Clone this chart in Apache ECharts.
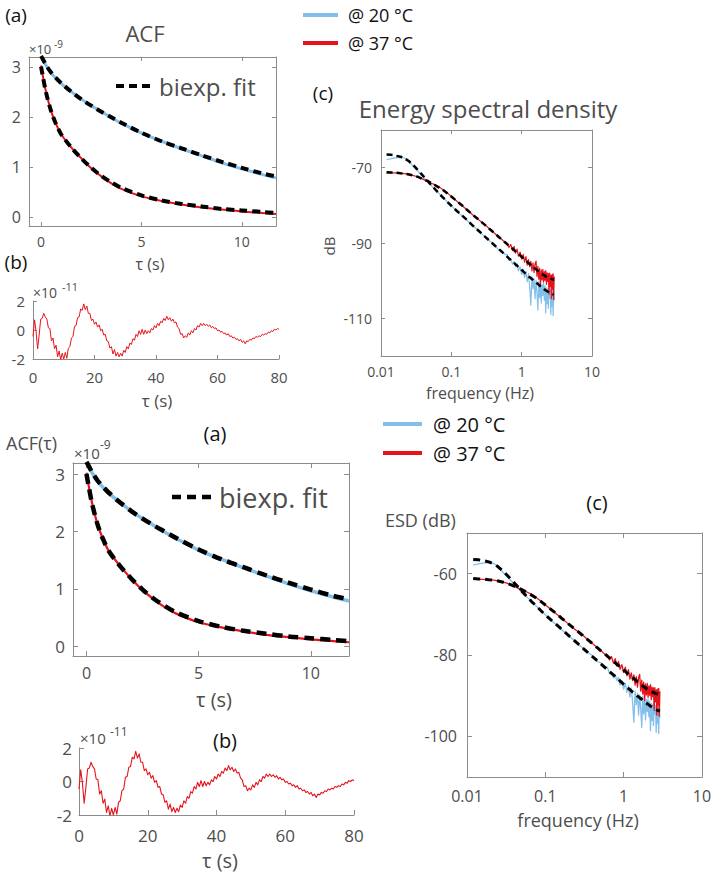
<!DOCTYPE html>
<html><head><meta charset="utf-8">
<script src="https://cdn.jsdelivr.net/npm/echarts@6/dist/echarts.min.js"></script>
<style>html,body{margin:0;padding:0;background:#fff;}#c{width:718px;height:876px;}</style>
</head><body><div id="c"></div>
<script>
// ---------- DATA ----------
// ACF (x 1e-9) vs tau (s)
const TAU = [0,0.1,0.25,0.5,0.75,1,1.5,2,2.5,3,3.5,4,5,6,7,8,9,10,11,11.7];
const ACF20     = [3.21,3.14,3.03,2.88,2.77,2.67,2.51,2.36,2.23,2.11,1.99,1.88,1.68,1.52,1.37,1.23,1.09,0.97,0.86,0.79];
const ACF20_FIT = [3.22,3.15,3.04,2.89,2.78,2.68,2.51,2.36,2.23,2.11,2.00,1.89,1.69,1.52,1.38,1.24,1.11,0.99,0.88,0.82];
const ACF37     = [3.03,2.80,2.50,2.12,1.86,1.66,1.40,1.18,0.98,0.82,0.68,0.57,0.42,0.33,0.26,0.20,0.16,0.12,0.09,0.07];
const ACF37_FIT = [3.01,2.79,2.49,2.12,1.86,1.66,1.40,1.18,0.99,0.83,0.70,0.59,0.44,0.34,0.27,0.22,0.17,0.14,0.11,0.09];
const ACF_YTICKS = [0,1,2,3];
const ACF_XTICKS = [0,5,10];

// fit residual (x 1e-11) vs tau (s)
const RES_T = [0,0.5,1,1.5,2,2.5,3,3.5,4,4.5,5,5.5,6,6.5,7,7.5,8,8.5,9,9.5,10,10.5,11,11.5,12,12.5,13,13.5,14,14.5,15,15.5,16,16.5,17,17.5,18,18.5,19,19.5,20,20.5,21,21.5,22,22.5,23,23.5,24,24.5,25,25.5,26,26.5,27,27.5,28,28.5,29,29.5,30,30.5,31,31.5,32,32.5,33,33.5,34,34.5,35,35.5,36,36.5,37,37.5,38,38.5,39,39.5,40,40.5,41,41.5,42,42.5,43,43.5,44,44.5,45,45.5,46,46.5,47,47.5,48,48.5,49,49.5,50,50.5,51,51.5,52,52.5,53,53.5,54,54.5,55,55.5,56,56.5,57,57.5,58,58.5,59,59.5,60,60.5,61,61.5,62,62.5,63,63.5,64,64.5,65,65.5,66,66.5,67,67.5,68,68.5,69,69.5,70,70.5,71,71.5,72,72.5,73,73.5,74,74.5,75,75.5,76,76.5,77,77.5,78,78.5,79,79.5,80];
const RES = [-0.45,0.70,-0.10,-1.30,-0.35,0.75,0.80,1.15,0.90,0.75,0.15,0.10,-0.75,-0.55,-1.30,-1.05,-1.85,-1.45,-2.05,-1.60,-2.00,-1.55,-1.95,-1.25,-1.15,-0.55,-0.45,0.25,0.30,0.85,0.90,1.45,1.35,1.80,1.40,1.65,1.15,1.15,0.65,0.75,0.40,0.55,0.20,0.35,-0.05,0.05,-0.35,-0.30,-0.75,-0.80,-1.25,-1.15,-1.65,-1.35,-1.80,-1.55,-1.85,-1.60,-1.80,-1.40,-1.55,-1.15,-1.30,-0.90,-1.00,-0.60,-0.70,-0.30,-0.45,-0.05,-0.30,0.05,-0.30,0.00,-0.25,-0.05,-0.20,0.10,0.00,0.30,0.15,0.45,0.30,0.60,0.50,0.80,0.65,0.95,0.70,0.85,0.60,0.75,0.50,0.55,0.20,0.10,-0.30,-0.25,-0.55,-0.40,-0.50,-0.20,-0.35,-0.05,-0.20,0.10,0.00,0.30,0.20,0.45,0.30,0.45,0.30,0.40,0.25,0.35,0.15,0.25,0.10,0.15,-0.05,0.00,-0.15,-0.10,-0.25,-0.20,-0.35,-0.25,-0.45,-0.40,-0.55,-0.50,-0.65,-0.60,-0.75,-0.65,-0.85,-0.75,-0.95,-0.75,-0.80,-0.65,-0.70,-0.55,-0.60,-0.45,-0.50,-0.40,-0.45,-0.30,-0.35,-0.25,-0.30,-0.15,-0.20,-0.05,-0.10,0.05,0.00,0.10,0.05];
const RES_YTICKS = [-2,0,2];
const RES_XTICKS = [0,20,40,60,80];

// Energy spectral density (dB) vs frequency (Hz)
const FREQ = [0.012,0.014,0.016,0.019,0.022,0.025,0.029,0.033,0.038,0.044,0.05,0.058,0.067,0.077,0.09,0.105,0.12,0.14,0.165,0.19,0.22,0.26,0.3,0.35,0.4,0.46,0.52,0.58,
0.62,0.66,0.70,0.74,0.78,0.82,0.86,0.90,0.95,1.00,1.05,1.10,1.15,1.20,1.25,1.30,1.35,1.40,1.45,1.50,1.55,1.60,1.65,1.70,1.75,1.80,1.85,1.90,1.95,2.00,2.05,2.10,2.15,2.20,2.25,2.30,2.35,2.40,2.45,2.50,2.55,2.60,2.65,2.70,2.75,2.80,2.85,2.90];
// upper panel (c)
const ESD20_A = [-67.9,-67.6,-67.4,-67.3,-67.5,-68.3,-69.7,-70.8,-72.1,-73.4,-74.5,-75.7,-76.9,-78.0,-79.3,-80.5,-81.6,-82.7,-83.9,-85.0,-86.0,-87.3,-88.3,-89.4,-90.2,-91.6,-92.0,-93.1,
-93.0,-94.6,-94.2,-95.6,-94.9,-96.3,-95.5,-97.4,-96.3,-98.4,-96.9,-99.2,-97.6,-100.3,-98.1,-101.6,-106.5,-98.9,-102.2,-99.4,-104.8,-99.9,-103.1,-107.8,-100.2,-104.5,-100.6,-106.0,-101.0,-103.9,-100.8,-105.2,-101.4,-108.6,-101.9,-106.1,-102.2,-107.3,-101.8,-104.6,-102.5,-109.0,-102.3,-106.8,-102.9,-109.3,-102.6,-105.5];
const ESD20_FIT_A = [-66.5,-66.6,-66.8,-67.1,-67.6,-68.3,-69.4,-70.5,-71.8,-73.1,-74.3,-75.6,-76.9,-78.0,-79.3,-80.5,-81.5,-82.6,-83.8,-84.9,-86.0,-87.2,-88.3,-89.4,-90.4,-91.4,-92.3,-93.1,
-93.6,-94.1,-94.5,-94.9,-95.3,-95.7,-96.0,-96.4,-96.8,-97.2,-97.5,-97.9,-98.2,-98.5,-98.8,-99.1,-99.3,-99.6,-99.8,-100.1,-100.3,-100.5,-100.7,-100.9,-101.1,-101.3,-101.5,-101.7,-101.8,-102.0,-102.1,-102.3,-102.4,-102.6,-102.7,-102.8,-102.9,-103.0,-103.1,-103.2,-103.3,-103.4,-103.5,-103.6,-103.6,-103.7,-103.7,-103.8];
const ESD37_A = [-71.4,-71.4,-71.4,-71.5,-71.6,-71.8,-72.1,-72.4,-72.9,-73.5,-74.0,-74.5,-75.1,-75.9,-76.9,-78.0,-78.9,-80.0,-81.1,-82.1,-83.2,-84.2,-85.1,-86.3,-87.2,-88.2,-89.0,-89.9,
-90.0,-91.2,-90.4,-92.0,-90.9,-92.7,-91.6,-93.5,-92.4,-94.3,-93.0,-95.1,-93.6,-95.9,-94.4,-96.3,-94.9,-97.4,-95.3,-97.9,-95.6,-94.8,-98.9,-96.2,-99.6,-96.7,-101.2,-97.1,-99.8,-97.0,-100.4,-97.6,-99.9,-97.3,-101.0,-97.9,-100.2,-98.1,-103.6,-98.0,-101.5,-98.6,-104.8,-98.4,-102.3,-98.2,-105.0,-98.9];
const ESD37_FIT_A = [-71.2,-71.3,-71.3,-71.5,-71.6,-71.8,-72.1,-72.4,-72.9,-73.4,-73.9,-74.6,-75.3,-76.0,-77.0,-78.0,-78.9,-79.9,-81.1,-82.1,-83.1,-84.2,-85.2,-86.3,-87.2,-88.2,-89.1,-89.8,
-90.3,-90.7,-91.1,-91.5,-91.9,-92.3,-92.6,-92.9,-93.3,-93.7,-94.0,-94.4,-94.7,-95.0,-95.3,-95.6,-95.8,-96.1,-96.3,-96.6,-96.8,-97.0,-97.2,-97.4,-97.6,-97.8,-97.9,-98.1,-98.2,-98.4,-98.5,-98.6,-98.7,-98.9,-99.0,-99.1,-99.1,-99.2,-99.3,-99.4,-99.4,-99.5,-99.5,-99.6,-99.6,-99.7,-99.7,-99.7];
// lower panel (c)
const ESD20_B = [-57.9,-57.6,-57.4,-57.3,-57.5,-58.3,-59.7,-60.8,-62.1,-63.4,-64.5,-65.7,-66.9,-68.0,-69.3,-70.5,-71.6,-72.7,-73.9,-75.0,-76.0,-77.3,-78.3,-79.4,-80.2,-81.6,-82.0,-83.1,
-83.0,-84.6,-84.2,-85.6,-84.9,-86.3,-85.5,-87.4,-86.3,-88.4,-86.9,-89.2,-87.6,-90.3,-88.1,-91.6,-96.5,-88.9,-92.2,-89.4,-94.8,-89.9,-93.1,-97.8,-90.2,-94.5,-90.6,-96.0,-91.0,-93.9,-90.8,-95.2,-91.4,-98.6,-91.9,-96.1,-92.2,-97.3,-91.8,-94.6,-92.5,-99.0,-92.3,-96.8,-92.9,-99.3,-92.6,-95.5];
const ESD20_FIT_B = [-56.5,-56.6,-56.8,-57.1,-57.6,-58.3,-59.4,-60.5,-61.8,-63.1,-64.3,-65.6,-66.9,-68.0,-69.3,-70.5,-71.5,-72.6,-73.8,-74.9,-76.0,-77.2,-78.3,-79.4,-80.4,-81.4,-82.3,-83.1,
-83.6,-84.1,-84.5,-84.9,-85.3,-85.7,-86.0,-86.4,-86.8,-87.2,-87.5,-87.9,-88.2,-88.5,-88.8,-89.1,-89.3,-89.6,-89.8,-90.1,-90.3,-90.5,-90.7,-90.9,-91.1,-91.3,-91.5,-91.7,-91.8,-92.0,-92.1,-92.3,-92.4,-92.6,-92.7,-92.8,-92.9,-93.0,-93.1,-93.2,-93.3,-93.4,-93.5,-93.6,-93.6,-93.7,-93.7,-93.8];
const ESD37_B = [-61.4,-61.4,-61.4,-61.5,-61.6,-61.8,-62.1,-62.4,-62.9,-63.5,-64.0,-64.5,-65.1,-65.9,-66.9,-68.0,-68.9,-70.0,-71.1,-72.1,-73.2,-74.2,-75.1,-76.3,-77.2,-78.2,-79.0,-79.9,
-80.0,-81.2,-80.4,-82.0,-80.9,-82.7,-81.6,-83.5,-82.4,-84.3,-83.0,-85.1,-83.6,-85.9,-84.4,-86.3,-84.9,-87.4,-85.3,-87.9,-85.6,-84.8,-88.9,-86.2,-89.6,-86.7,-91.2,-87.1,-89.8,-87.0,-90.4,-87.6,-89.9,-87.3,-91.0,-87.9,-90.2,-88.1,-93.6,-88.0,-91.5,-88.6,-94.8,-88.4,-92.3,-88.2,-95.0,-88.9];
const ESD37_FIT_B = [-61.2,-61.3,-61.3,-61.5,-61.6,-61.8,-62.1,-62.4,-62.9,-63.4,-63.9,-64.6,-65.3,-66.0,-67.0,-68.0,-68.9,-69.9,-71.1,-72.1,-73.1,-74.2,-75.2,-76.3,-77.2,-78.2,-79.1,-79.8,
-80.3,-80.7,-81.1,-81.5,-81.9,-82.3,-82.6,-82.9,-83.3,-83.7,-84.0,-84.4,-84.7,-85.0,-85.3,-85.6,-85.8,-86.1,-86.3,-86.6,-86.8,-87.0,-87.2,-87.4,-87.6,-87.8,-87.9,-88.1,-88.2,-88.4,-88.5,-88.6,-88.7,-88.9,-89.0,-89.1,-89.1,-89.2,-89.3,-89.4,-89.4,-89.5,-89.5,-89.6,-89.6,-89.7,-89.7,-89.7];
const ESD_YTICKS_A = [-110,-90,-70];
const ESD_YTICKS_B = [-100,-80,-60];

const NAME20 = '@ 20 °C', NAME37 = '@ 37 °C', NAMEFIT = 'biexp. fit';

// ---------- STYLE ----------
const FONT = 'Open Sans';
const AX = '#8c8c8c', LBL = '#4d4d4d', BLUE = '#82bfea', RED = '#e5141c';

const zip = (xs, ys) => xs.map((x, i) => [x, ys[i]]);

function axis(g, o) {
  const a = {
    gridIndex: g, type: o.type || 'value', min: o.min, max: o.max, position: o.pos,
    axisLine: {show: true, onZero: false, lineStyle: {color: AX, width: 1}},
    axisTick: {show: true, inside: true, length: o.tl || 4, lineStyle: {color: AX, width: 1}},
    axisLabel: {show: !!o.labels, margin: o.margin || 8, fontSize: o.fs || 14, color: LBL, fontFamily: FONT},
    splitLine: {show: false}, minorTick: {show: false}, minorSplitLine: {show: false}
  };
  if (o.ticks) { a.axisTick.customValues = o.ticks; a.axisLabel.customValues = o.ticks; }
  if (o.type === 'log') a.logBase = 10;
  return a;
}

const grids = [
  {left: 29, top: 57, width: 247, height: 169},
  {left: 33, top: 301, width: 246, height: 58},
  {left: 381, top: 130, width: 211, height: 226},
  {left: 73, top: 463, width: 276, height: 193},
  {left: 79, top: 748, width: 275, height: 67},
  {left: 467, top: 533, width: 235, height: 244}
].map(g => Object.assign({containLabel: false, outerBoundsMode: 'none'}, g));

const XMIN = -0.6, XMAX = 11.7, YMIN = -0.17, YMAX = 3.2;
const xAxes = [
  axis(0, {min: XMIN, max: XMAX, pos: 'bottom', ticks: ACF_XTICKS, labels: true, margin: 8, fs: 14}),
  axis(0, {min: XMIN, max: XMAX, pos: 'top', ticks: ACF_XTICKS}),
  axis(1, {min: 0, max: 80, pos: 'bottom', ticks: RES_XTICKS, labels: true, margin: 10, fs: 15}),
  axis(2, {type: 'log', min: 0.01, max: 10, pos: 'bottom', labels: true, margin: 8, fs: 14}),
  axis(2, {type: 'log', min: 0.01, max: 10, pos: 'top'}),
  axis(3, {min: XMIN, max: XMAX, pos: 'bottom', ticks: ACF_XTICKS, labels: true, margin: 9, fs: 16, tl: 5}),
  axis(3, {min: XMIN, max: XMAX, pos: 'top', ticks: ACF_XTICKS, tl: 5}),
  axis(4, {min: 0, max: 80, pos: 'bottom', ticks: RES_XTICKS, labels: true, margin: 12, fs: 17, tl: 5}),
  axis(5, {type: 'log', min: 0.01, max: 10, pos: 'bottom', labels: true, margin: 11, fs: 16, tl: 5}),
  axis(5, {type: 'log', min: 0.01, max: 10, pos: 'top', tl: 5})
];
const yAxes = [
  axis(0, {min: YMIN, max: YMAX, pos: 'left', ticks: ACF_YTICKS, labels: true, margin: 8, fs: 16}),
  axis(0, {min: YMIN, max: YMAX, pos: 'right', ticks: ACF_YTICKS}),
  axis(1, {min: -2, max: 2, pos: 'left', ticks: RES_YTICKS, labels: true, margin: 8, fs: 15}),
  axis(2, {min: -120, max: -60, pos: 'left', ticks: ESD_YTICKS_A, labels: true, margin: 9, fs: 14}),
  axis(2, {min: -120, max: -60, pos: 'right', ticks: ESD_YTICKS_A}),
  axis(3, {min: YMIN, max: YMAX, pos: 'left', ticks: ACF_YTICKS, labels: true, margin: 8, fs: 17, tl: 5}),
  axis(3, {min: YMIN, max: YMAX, pos: 'right', ticks: ACF_YTICKS, tl: 5}),
  axis(4, {min: -2, max: 2, pos: 'left', ticks: RES_YTICKS, labels: true, margin: 7, fs: 17, tl: 5}),
  axis(5, {min: -110, max: -50, pos: 'left', ticks: ESD_YTICKS_B, labels: true, margin: 10, fs: 16, tl: 5}),
  axis(5, {min: -110, max: -50, pos: 'right', ticks: ESD_YTICKS_B, tl: 5})
];

function line(name, xi, data, color, width, dash, smooth) {
  return {
    name, type: 'line', xAxisIndex: xi, yAxisIndex: xi, data, symbol: 'none', showSymbol: false,
    smooth: smooth || false, animation: false, silent: true,
    lineStyle: {color, width, type: dash || 'solid', cap: 'butt', join: 'round'}
  };
}

const series = [
  // upper (a)
  line(NAME20, 0, zip(TAU, ACF20), BLUE, 3, null, 0.3),
  line(NAME37, 0, zip(TAU, ACF37), RED, 2, null, 0.3),
  line(NAMEFIT, 0, zip(TAU, ACF20_FIT), '#000', 4, [8, 5], 0.3),
  line(NAMEFIT, 0, zip(TAU, ACF37_FIT), '#000', 4, [8, 5], 0.3),
  // upper (b)
  line(NAME37, 2, zip(RES_T, RES), RED, 1),
  // upper (c)
  line(NAME20, 3, zip(FREQ, ESD20_A), BLUE, 1.2),
  line(NAME37, 3, zip(FREQ, ESD37_A), RED, 1.2),
  line(NAMEFIT, 3, zip(FREQ, ESD20_FIT_A), '#000', 2.5, [6, 4]),
  line(NAMEFIT, 3, zip(FREQ, ESD37_FIT_A), '#000', 2.5, [6, 4]),
  // lower (a)
  line(NAME20, 5, zip(TAU, ACF20), BLUE, 3.5, null, 0.3),
  line(NAME37, 5, zip(TAU, ACF37), RED, 2.2, null, 0.3),
  line(NAMEFIT, 5, zip(TAU, ACF20_FIT), '#000', 4.5, [10, 6], 0.3),
  line(NAMEFIT, 5, zip(TAU, ACF37_FIT), '#000', 4.5, [10, 6], 0.3),
  // lower (b)
  line(NAME37, 7, zip(RES_T, RES), RED, 1.1),
  // lower (c)
  line(NAME20, 8, zip(FREQ, ESD20_B), BLUE, 1.3),
  line(NAME37, 8, zip(FREQ, ESD37_B), RED, 1.3),
  line(NAMEFIT, 8, zip(FREQ, ESD20_FIT_B), '#000', 3, [7, 5]),
  line(NAMEFIT, 8, zip(FREQ, ESD37_FIT_B), '#000', 3, [7, 5])
];

function T(x, y, text, size, color, align, extra) {
  return Object.assign({
    type: 'text', x, y, silent: true,
    style: {text, fill: color || LBL, fontSize: size, fontFamily: FONT,
      align: align || 'center', textAlign: align || 'center',
      verticalAlign: 'middle', textVerticalAlign: 'middle'}
  }, extra || {});
}
function L(x1, y1, x2, y2, color, w, dash) {
  return {type: 'line', silent: true, shape: {x1, y1, x2, y2},
    style: {stroke: color, lineWidth: w, lineDash: dash || null, lineCap: 'butt'}};
}

const graphic = [
  // upper figure
  T(16, 15, '(a)', 19, '#111'),
  T(145, 33, 'ACF', 22),
  T(29, 49, '×10', 13, LBL, 'left'), T(54, 44, '-9', 10, LBL, 'left'),
  L(116, 86, 153, 86, '#000', 4, [8, 5]),
  T(159, 86, NAMEFIT, 24, LBL, 'left'),
  T(150, 264, 'τ (s)', 16),
  T(16, 262, '(b)', 19, '#111'),
  T(33, 292, '×10', 14, LBL, 'left'), T(62, 286, '-11', 11, LBL, 'left'),
  T(157, 400, 'τ (s)', 17),
  L(303, 15, 338, 15, BLUE, 4), T(348, 15, NAME20, 18, '#111', 'left'),
  L(303, 43, 338, 43, RED, 4), T(348, 43, NAME37, 18, '#111', 'left'),
  T(323, 93, '(c)', 19, '#111'),
  T(488, 108, 'Energy spectral density', 24),
  T(329, 246, 'dB', 15, LBL, 'center', {rotation: Math.PI / 2}),
  T(480, 393, 'frequency (Hz)', 16),
  // lower figure
  T(215, 433, '(a)', 20, '#111'),
  T(6, 443, 'ACF(τ)', 18, LBL, 'left'),
  T(74, 453, '×10', 15, LBL, 'left'), T(100, 444, '-9', 12, LBL, 'left'),
  L(172, 497, 213, 497, '#000', 4.5, [9, 6]),
  T(219, 497, NAMEFIT, 27, LBL, 'left'),
  T(214, 699, 'τ (s)', 20),
  T(225, 740, '(b)', 20, '#111'),
  T(80, 738, '×10', 15, LBL, 'left'), T(110, 731, '-11', 12, LBL, 'left'),
  T(220, 860, 'τ (s)', 20),
  L(383, 424, 422, 424, BLUE, 4), T(433, 424, NAME20, 20, '#111', 'left'),
  L(383, 453, 422, 453, RED, 4), T(433, 453, NAME37, 20, '#111', 'left'),
  T(597, 502, '(c)', 20, '#111'),
  T(385, 520, 'ESD (dB)', 18, LBL, 'left'),
  T(578, 820, 'frequency (Hz)', 18)
];

const chart = echarts.init(document.getElementById('c'), null, {renderer: 'svg', width: 718, height: 876});
chart.setOption({
  backgroundColor: '#fff', animation: false,
  textStyle: {fontFamily: FONT},
  grid: grids, xAxis: xAxes, yAxis: yAxes, series, graphic
});
</script></body></html>
